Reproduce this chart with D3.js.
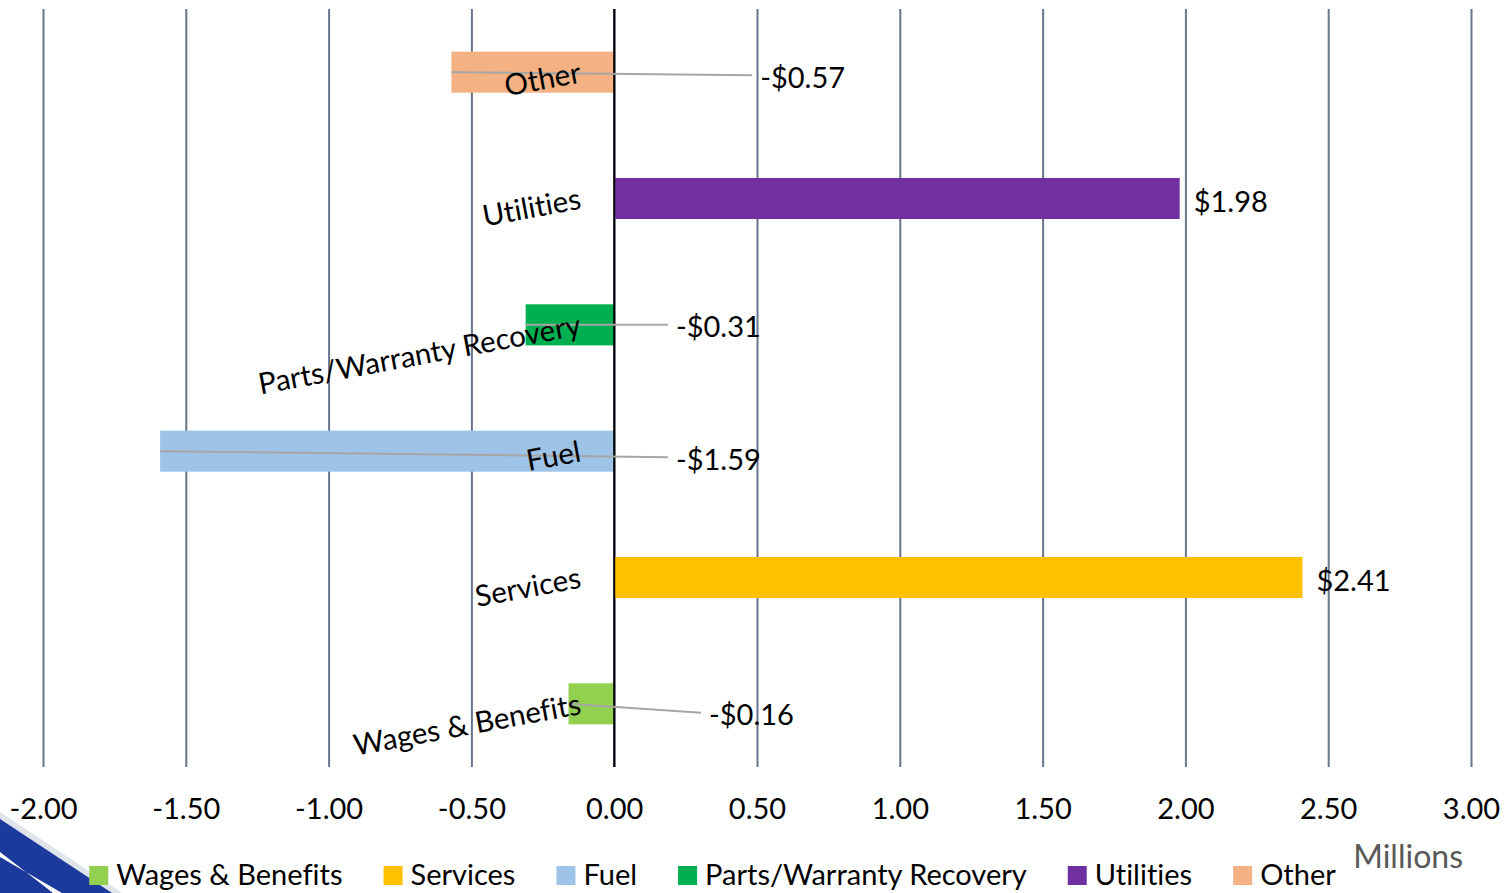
<!DOCTYPE html>
<html>
<head>
<meta charset="utf-8">
<script src="https://cdn.jsdelivr.net/npm/d3@7/dist/d3.min.js"></script>
<style>
  html, body { margin: 0; padding: 0; background: #ffffff; }
  svg { display: block; }
  text { font-family: Lato, "Open Sans", sans-serif; font-variant-ligatures: none; font-feature-settings: "liga" 0; }
</style>
</head>
<body>
<svg id="chart" width="1508" height="893"></svg>
<script>
// ---- data ----
const categories = ["Wages & Benefits", "Services", "Fuel", "Parts/Warranty Recovery", "Utilities", "Other"];
const values = [-0.16, 2.41, -1.59, -0.31, 1.98, -0.57];
const colors = ["#92d050", "#ffc000", "#9dc3e6", "#00b050", "#7030a0", "#f4b183"];
const tickValues = [-2.0, -1.5, -1.0, -0.5, 0.0, 0.5, 1.0, 1.5, 2.0, 2.5, 3.0];
const unitLabel = "Millions";

// layout only: where the moved data labels sit (x in data units, dy in px)
const labelMoves = [{x: 0.332, dy: 10}, null, {x: 0.216, dy: 7}, {x: 0.216, dy: 1}, null, {x: 0.511, dy: 4}];

const svg = d3.select("#chart");
const plot = {left: 43, right: 1471, top: 9, bottom: 767};

const x = d3.scaleLinear().domain([-2, 3]).range([plot.left, plot.right]);
const y = d3.scaleBand()
  .domain(categories.slice().reverse())
  .range([plot.top, plot.bottom])
  .paddingInner(0.675)
  .paddingOuter(0.3375);

// bottom-left decoration
const deco = svg.append("g");
deco.append("polygon").attr("points", "0,812 0,893 122,893").attr("fill", "#dfe3ea");
deco.append("polygon").attr("points", "0,819 0,893 112,893").attr("fill", "#1c3a9c");
deco.append("polygon").attr("points", "0,852 0,857 62,893 53,893").attr("fill", "#ffffff");

// gridlines via axis
const gridAxis = d3.axisBottom(x).tickValues(tickValues).tickSize(-(plot.bottom - plot.top)).tickFormat("");
const grid = svg.append("g").attr("transform", `translate(0,${plot.bottom})`).call(gridAxis);
grid.select(".domain").remove();
grid.selectAll(".tick line").attr("stroke", "#68758d").attr("stroke-width", 2);

// tick labels via axis (ASCII hyphen for negatives)
const f2 = d3.format(".2f");
const tickFmt = v => (v < 0 ? "-" : "") + f2(Math.abs(v));
const labAxis = d3.axisBottom(x).tickValues(tickValues).tickSize(0).tickFormat(tickFmt);
const labs = svg.append("g").attr("transform", `translate(0,${plot.bottom})`).call(labAxis);
labs.select(".domain").remove();
labs.selectAll(".tick text")
  .attr("y", 52).attr("dy", 0)
  .attr("fill", "#000")
  .style("font-family", "Lato, 'Open Sans', sans-serif")
  .style("font-size", "29px");

// bars
const data = categories.map((c, i) => ({cat: c, v: values[i], color: colors[i], move: labelMoves[i]}));
svg.append("g").selectAll("rect").data(data).join("rect")
  .attr("x", d => x(Math.min(0, d.v)))
  .attr("width", d => Math.abs(x(d.v) - x(0)))
  .attr("y", d => y(d.cat))
  .attr("height", y.bandwidth())
  .attr("fill", d => d.color);

// zero line
svg.append("line")
  .attr("x1", x(0)).attr("x2", x(0))
  .attr("y1", plot.top).attr("y2", plot.bottom)
  .attr("stroke", "#000").attr("stroke-width", 2);

const cy = d => y(d.cat) + y.bandwidth() / 2;

// leader lines
svg.append("g").selectAll("line").data(data.filter(d => d.move)).join("line")
  .attr("x1", d => x(d.v)).attr("y1", d => cy(d))
  .attr("x2", d => x(d.move.x) - 8).attr("y2", d => cy(d) + d.move.dy - 1)
  .attr("stroke", "#a6a6a6").attr("stroke-width", 2);

// category labels (rotated)
svg.append("g").selectAll("text").data(data).join("text")
  .attr("transform", d => `translate(${x(0) - 32},${cy(d) + 10}) rotate(-10.5)`)
  .attr("text-anchor", "end")
  .attr("fill", "#000")
  .style("font-size", "29.5px")
  .text(d => d.cat);

// data labels
const fmt = v => (v < 0 ? "-$" : "$") + f2(Math.abs(v));
svg.append("g").selectAll("text").data(data).join("text")
  .attr("x", d => d.move ? x(d.move.x) : x(d.v) + 14)
  .attr("y", d => cy(d) + (d.move ? d.move.dy : 2))
  .attr("dominant-baseline", "central")
  .attr("fill", "#000")
  .style("font-size", "29px")
  .text(d => fmt(d.v));

// legend
const legend = svg.append("g");
const items = legend.selectAll("g").data(data).join("g");
items.append("rect").attr("width", 19).attr("height", 19).attr("y", 866).attr("fill", d => d.color);
items.append("text").attr("x", 27).attr("y", 885).attr("fill", "#000").style("font-size", "29px").text(d => d.cat);
let widths = [];
items.each(function() { widths.push(this.querySelector("text").getComputedTextLength()); });
const gap = 41;
const total = widths.reduce((a, w) => a + 27 + w, 0) + gap * (widths.length - 1);
let cx = 712.5 - total / 2;
items.attr("transform", (d, i) => { const t = `translate(${cx},0)`; cx += 27 + widths[i] + gap; return t; });

// unit label
svg.append("text")
  .attr("x", 1463).attr("y", 868)
  .attr("text-anchor", "end")
  .attr("fill", "#595959")
  .style("font-size", "32px")
  .text(unitLabel);
</script>
</body>
</html>
